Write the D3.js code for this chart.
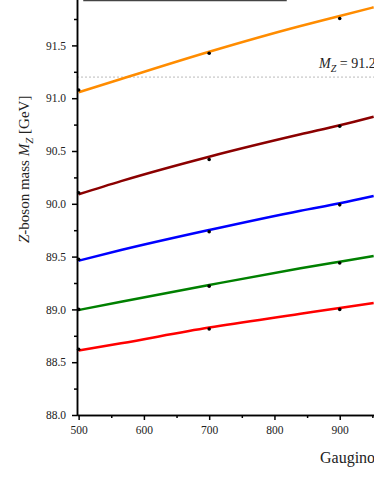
<!DOCTYPE html>
<html>
<head>
<meta charset="utf-8">
<script src="https://cdn.jsdelivr.net/npm/d3@7"></script>
<style>
body { margin: 0; background: white; }
svg { display: block; }
.axis path, .axis line { stroke: black; stroke-width: 1.5; }
.axis text { font-family: "Liberation Serif", "Times New Roman", serif; font-size: 11.5px; fill: #222; }
</style>
</head>
<body>
<script>
var g_width = 374
var g_height = 484

// gaugino mass of the computed points
var massPoints = [500, 700, 900]

// computed Z mass, one array per curve (top to bottom)
var orangePts = [91.077, 91.425, 91.755]
var maroonPts = [90.105, 90.42, 90.735]
var bluePts = [89.474, 89.736, 89.99]
var greenPts = [89.0, 89.22, 89.44]
var redPts = [88.622, 88.814, 89.0]

// fitted curves
var fitMass = [500, 565, 700, 840, 900, 952]
var orangeFit = [91.056, 91.182, 91.44, 91.684, 91.778, 91.861]
var maroonFit = [90.09, 90.215, 90.446, 90.658, 90.743, 90.825]
var blueFit = [89.461, 89.562, 89.752, 89.935, 90.005, 90.074]
var greenFit = [88.994, 89.073, 89.231, 89.389, 89.452, 89.506]
var redFit = [88.61, 88.679, 88.828, 88.958, 89.014, 89.06]

var xTicks = [500, 600, 700, 800, 900, 1000]
var yTicks = [88.0, 88.5, 89.0, 89.5, 90.0, 90.5, 91.0, 91.5, 92.0, 92.5]
var mzValue = 91.2

var series = [
    {color: "#ff8c00", pts: orangePts, fit: orangeFit},
    {color: "#8b0000", pts: maroonPts, fit: maroonFit},
    {color: "#0000ff", pts: bluePts, fit: blueFit},
    {color: "#008000", pts: greenPts, fit: greenFit},
    {color: "#ff0000", pts: redPts, fit: redFit}
]

var svg = d3.select("body")
    .append("svg")
    .attr("width", g_width)
    .attr("height", g_height)

var xScale = d3.scaleLinear().domain([497.5, 1000]).range([77, 405])
var yScale = d3.scaleLinear().domain([88, 92.5]).range([415, -60.2])

// legend box, only its lower edge shows
svg.append("rect")
    .attr("x", 84).attr("y", -100)
    .attr("width", 202).attr("height", 100.5)
    .attr("fill", "none")
    .attr("stroke", "#444")
    .attr("stroke-width", 1.5)

// M_Z reference line
svg.append("line")
    .attr("x1", xScale(497.5)).attr("x2", g_width)
    .attr("y1", yScale(mzValue)).attr("y2", yScale(mzValue))
    .attr("stroke", "#bbb")
    .attr("stroke-width", 1)
    .attr("stroke-dasharray", "2,2")

var mzLabel = svg.append("text")
    .attr("x", 319).attr("y", yScale(mzValue) - 9.5)
    .style("font-family", "'Liberation Serif', serif")
    .style("font-size", "14px")
    .attr("fill", "#222")
mzLabel.append("tspan").style("font-style", "italic").text("M")
mzLabel.append("tspan").style("font-style", "italic").style("font-size", "10px").attr("dy", 4).text("Z")
mzLabel.append("tspan").attr("dy", -4).text(" = " + mzValue + " GeV")

// axes
var xMinor = d3.range(550, 1000, 100)
var yMinor = d3.range(88.25, 92.5, 0.5)

svg.append("g")
    .attr("class", "axis")
    .attr("transform", "translate(0,415)")
    .call(d3.axisBottom(xScale).tickValues(xMinor).tickSize(3).tickSizeOuter(0).tickFormat(""))
svg.append("g")
    .attr("class", "axis")
    .attr("transform", "translate(0,415)")
    .call(d3.axisBottom(xScale).tickValues(xTicks).tickSize(5).tickSizeOuter(0).tickPadding(5.5).tickFormat(d3.format("d")))

svg.append("g")
    .attr("class", "axis")
    .attr("transform", "translate(77,0)")
    .call(d3.axisLeft(yScale).tickValues(yMinor).tickSize(3).tickSizeOuter(0).tickFormat(""))
svg.append("g")
    .attr("class", "axis")
    .attr("transform", "translate(77,0)")
    .call(d3.axisLeft(yScale).tickValues(yTicks).tickSize(5).tickSizeOuter(0).tickPadding(6).tickFormat(d3.format(".1f")))

// fit curves
var line = d3.line()
    .x(function(d){ return xScale(d[0]) })
    .y(function(d){ return yScale(d[1]) })
    .curve(d3.curveMonotoneX)

series.forEach(function(s){
    svg.append("path")
        .datum(d3.zip(fitMass, s.fit))
        .attr("d", line)
        .attr("fill", "none")
        .attr("stroke", s.color)
        .attr("stroke-width", 2.5)
})

// computed points
series.forEach(function(s){
    svg.selectAll(null)
        .data(d3.zip(massPoints, s.pts))
        .enter().append("circle")
        .attr("cx", function(d){ return xScale(d[0]) })
        .attr("cy", function(d){ return yScale(d[1]) })
        .attr("r", 1.8)
        .attr("fill", "black")
})

// axis titles
var yTitle = svg.append("text")
    .attr("transform", "translate(28.5,243) rotate(-90)")
    .attr("text-anchor", "start")
    .style("font-family", "'Liberation Serif', serif")
    .style("font-size", "15px")
    .attr("fill", "#222")
yTitle.append("tspan").style("font-style", "italic").text("Z")
yTitle.append("tspan").text("-boson mass ")
yTitle.append("tspan").style("font-style", "italic").text("M")
yTitle.append("tspan").style("font-style", "italic").style("font-size", "11px").attr("dy", 4).text("Z")
yTitle.append("tspan").attr("dy", -4).text(" [GeV]")

svg.append("text")
    .attr("x", 320).attr("y", 463)
    .style("font-family", "'Liberation Serif', serif")
    .style("font-size", "16px")
    .attr("fill", "#222")
    .text("Gaugino mass [GeV]")
</script>
</body>
</html>
